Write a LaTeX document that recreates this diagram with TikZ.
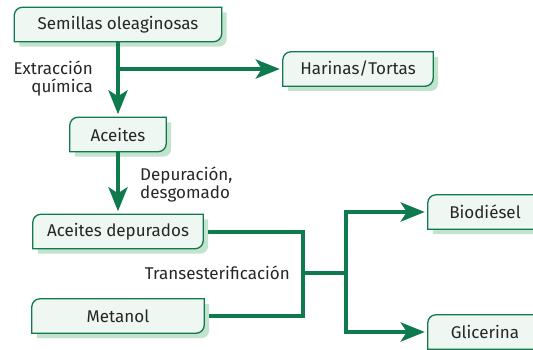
\documentclass[tikz,border=0pt]{standalone}
\usepackage{fontspec}
\setmainfont{Fira Sans}
\usetikzlibrary{arrows.meta,positioning,backgrounds,calc}
\definecolor{flowgreen}{HTML}{0E7A4E}
\definecolor{boxfill}{HTML}{EEF7F1}
\definecolor{boxshade}{HTML}{C3E3CE}
\definecolor{txtgray}{HTML}{262626}

% box with two rounded corners and a shadow
\newcommand{\leafbox}[1]{%
  \fill[boxshade] ($(#1.south west)+(\sh,-\sh)$) -- ($(#1.north west)+(\sh,-\sh-\rad)$)
    arc[start angle=180,end angle=90,radius=\rad] -- ($(#1.north east)+(\sh,-\sh)$)
    -- ($(#1.south east)+(\sh,-\sh+\rad)$) arc[start angle=0,end angle=-90,radius=\rad] -- cycle;
  \filldraw[fill=boxfill, draw=flowgreen, line width=1.3pt] (#1.south west) -- ($(#1.north west)+(0,-\rad)$)
    arc[start angle=180,end angle=90,radius=\rad] -- (#1.north east)
    -- ($(#1.south east)+(0,\rad)$) arc[start angle=0,end angle=-90,radius=\rad] -- cycle;
}

\begin{document}
\begin{tikzpicture}[x=1pt, y=1pt,
  box/.style = {minimum height=34pt, inner sep=0pt, text=txtgray, font=\fontsize{17}{18}\selectfont},
  flow/.style = {flowgreen, line width=4pt, -{Stealth[length=24pt,width=19pt,inset=6pt]}, shorten >=3pt},
  link/.style = {flowgreen, line width=4pt},
  note/.style = {text=txtgray, font=\fontsize{17}{18}\selectfont, inner sep=0pt}]
\useasboundingbox (0,0) rectangle (533,349);
\pgfmathsetmacro{\rad}{8} % corner radius
\pgfmathsetmacro{\sh}{5}  % shadow offset

\node[box, minimum width=207pt] (sem) at (118,324.5) {Semillas oleaginosas};
\node[box, minimum width=150pt] (har) at (358,280) {Harinas/Tortas};
\node[box, minimum width=96pt]  (ace) at (118,214.5) {Aceites};
\node[box, minimum width=170pt] (dep) at (118,117.5) {Aceites depurados};
\node[box, minimum width=172pt] (met) at (118,33) {Metanol};
\node[box, minimum width=114pt] (bio) at (485,137) {Biodiésel};
\node[box, minimum width=114pt] (gli) at (485,17) {Glicerina};

\begin{scope}[on background layer]
\foreach \n in {sem,har,ace,dep,met,bio,gli}{\leafbox{\n}}
\end{scope}

\node[note, align=right, anchor=east] (ext) at (93,270) {Extracción\\química};
\node[note, align=left, anchor=west] (dpr) at (140,164) {Depuración,\\desgomado};
\node[note, anchor=east] (tra) at (290,76) {Transesterificación};

\coordinate (fork) at (sem.south |- har.west);
\coordinate (mrg) at (303,76);
\coordinate (split) at (346,76);

\draw[flow] (sem) -- (ace);
\draw[flow] (fork) -- (har);
\draw[flow] (ace) -- (dep);
\draw[link] ([xshift=5pt]dep.east) -| (mrg) |- ([xshift=5pt]met.east);
\draw[link] (mrg) -- (split);
\draw[flow] (split) |- (bio);
\draw[flow] (split) |- (gli);
%\draw[red] (0,0) grid[step=50] (533,349);

\end{tikzpicture}
\end{document}
